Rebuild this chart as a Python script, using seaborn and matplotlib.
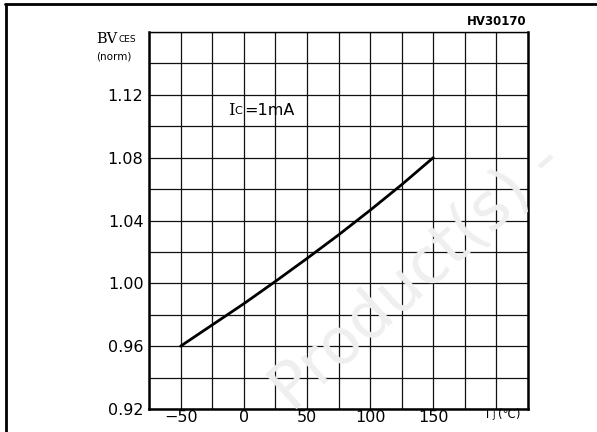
import numpy as np
import pandas as pd
import seaborn as sns
import matplotlib.pyplot as plt
from matplotlib.lines import Line2D

# curve values
tj = [-50, -25, 0, 25, 50, 75, 100, 125, 150]
bv_norm = [0.960, 0.9735, 0.987, 1.0012, 1.0158, 1.0308, 1.0465, 1.0628, 1.080]

x_ticks = [-50, 0, 50, 100, 150]
x_labels = ['−50', '0', '50', '100', '150']
y_ticks = [0.92, 0.96, 1.00, 1.04, 1.08, 1.12]
y_labels = ['0.92', '0.96', '1.00', '1.04', '1.08', '1.12']

df = pd.DataFrame({'Tj': tj, 'BV': bv_norm})

sns.set_style('white')
plt.rcParams['font.family'] = ['DejaVu Sans']
plt.rcParams['text.color'] = 'black'

fig = plt.figure(figsize=(5.97, 4.32), dpi=100)
ax = fig.add_axes([149/597, 1-409/432, (528-149)/597, (409-32)/432])

# faint watermark behind everything
fig.text(0.70, 0.36, 'Product(s) -', fontsize=46, color='#efefef',
         rotation=42, ha='center', va='center', zorder=0)
ax.set_facecolor('none')

sns.lineplot(data=df, x='Tj', y='BV', color='black', linewidth=2, ax=ax, zorder=3)

ax.set_xlim(-75, 225)
ax.set_ylim(0.92, 1.16)
ax.set_xticks(np.arange(-75, 226, 25), minor=True)
ax.set_yticks(np.arange(0.92, 1.161, 0.02), minor=True)
ax.set_xticks(x_ticks)
ax.set_xticklabels(x_labels, fontsize=11.5)
ax.set_yticks(y_ticks)
ax.set_yticklabels(y_labels, fontsize=11.5)
ax.grid(which='both', color='#111111', linewidth=0.9)
ax.tick_params(which='both', length=0, labelcolor='black')
ax.tick_params(axis='y', pad=4)
ax.tick_params(axis='x', pad=1)
ax.set_xlabel('')
ax.set_ylabel('')
for side in ['left', 'bottom', 'right']:
    ax.spines[side].set_linewidth(1.8)
    ax.spines[side].set_color('black')
ax.spines['top'].set_linewidth(1.0)
ax.spines['top'].set_color('black')

# axis captions in datasheet style
ax.text(-116.7, 1.1555, 'BV', fontsize=10.5, ha='left', va='center', family='DejaVu Serif')
ax.text(-99.5, 1.1550, 'CES', fontsize=6.5, ha='left', va='center')
ax.text(-116.7, 1.1447, '(norm)', fontsize=7.5, ha='left', va='center')
ax.text(-12.5, 1.1103, 'I', fontsize=12, ha='left', va='center', family='DejaVu Serif')
ax.text(-7.5, 1.1098, 'C', fontsize=8, ha='left', va='center')
ax.text(0.5, 1.1103, '=1mA', fontsize=11.5, ha='left', va='center')
ax.text(190.5, 0.9162, 'T', fontsize=8.5, ha='left', va='center')
ax.text(196.5, 0.9158, 'J', fontsize=6, ha='left', va='center')
ax.text(201.5, 0.9162, '(℃)', fontsize=8.5, ha='left', va='center')
ax.text(224.2, 1.1664, 'HV30170', fontsize=8.5, ha='right', va='center', fontweight='semibold')

# outer frame (top and left visible)
fig.add_artist(Line2D([5/597, 1], [1-4/432, 1-4/432], color='black', linewidth=2))
fig.add_artist(Line2D([6/597, 6/597], [0, 1-4/432], color='black', linewidth=2))

fig.savefig('out.png', dpi=100)
